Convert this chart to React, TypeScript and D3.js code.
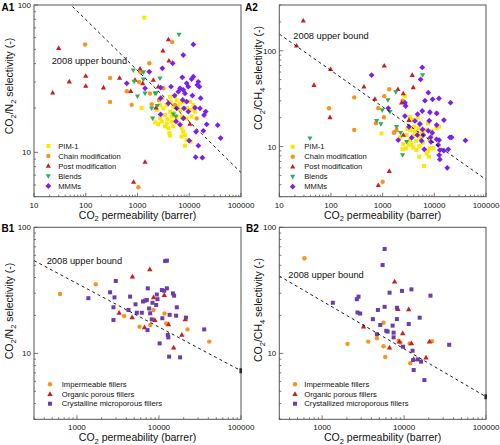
import React from "react";
import * as d3 from "d3";

type Pt = [number, number];

// ---------- Panel A1 : CO2/N2 ----------
const a1PIM1: Pt[] = [
  [1350, 82], [1200, 20], [4250, 23.9], [5290, 24.1], [5710, 22.6], [4370, 22.1], [3660, 21], [2720, 21],
  [3160, 19.9], [2350, 19.4], [4920, 20.4], [6620, 21.5], [10300, 22.1], [12000, 21], [10300, 19.4],
  [6620, 19.4], [4250, 18.9], [3400, 17.9], [4570, 17.5], [2720, 17], [5710, 17.5], [2930, 16.2],
  [3660, 15.7], [4570, 16.2], [5710, 16.6], [7130, 17.5], [8910, 17], [11100, 17.5], [3400, 15],
  [3940, 14.6], [4920, 15], [7130, 14.6], [7670, 13.8], [8280, 13.1], [7130, 12.8], [4120, 13.5],
  [8910, 12.1], [8280, 11.1], [10670, 11.8], [4250, 13], [12900, 18.9], [3000, 23.5], [6000, 20.5],
  [7800, 22], [9000, 20], [5000, 18.5], [3800, 16.8], [6200, 15.8], [2500, 15.5], [2200, 16], [12500, 19.4],
];
const a1Chain: Pt[] = [
  [97, 54], [295, 32], [295, 22], [620, 26], [770, 21], [1070, 30], [1150, 35], [1690, 40.2], [1740, 25.1],
  [1880, 21.2], [2600, 22.7], [3160, 27.2], [4700, 56], [1040, 5.8], [13900, 17], [5300, 21],
];
const a1Post: Pt[] = [
  [30, 51], [23, 25.4], [48, 30.2], [100, 33], [100, 28.2], [220, 27.5], [450, 32], [740, 26], [895, 31],
  [1120, 37], [1260, 29.4], [1400, 8.6], [840, 6.3], [2020, 31], [2520, 27.9], [2280, 20.1], [4050, 41.9],
  [3950, 58.4], [3100, 49], [10300, 15.6],
];
const a1Blends: Pt[] = [
  [6340, 63], [830, 36], [860, 30.2], [1300, 35], [1300, 31.3], [1000, 24], [1400, 25.1], [2180, 25.1],
  [2720, 31.8], [1960, 17], [1880, 19.9], [2420, 20.7], [4920, 18.1], [5500, 17.5], [2300, 25.2],
];
const a1MMMs: Pt[] = [
  [12000, 54], [7670, 45.7], [620, 29.4], [1690, 35.2], [3020, 37.2], [4780, 40.2], [7340, 32.3],
  [11100, 31.4], [12000, 32.6], [14970, 30.1], [14300, 28.6], [15700, 27.9], [4440, 27.9], [6630, 27.2],
  [7670, 26.5], [9590, 27.9], [8910, 29.4], [6150, 25.8], [8280, 25.1], [1400, 27.2], [2800, 27.5],
  [5220, 24.3], [11500, 24.3], [16600, 23.3], [2800, 23.3], [3940, 21.5], [7450, 22.7], [8910, 22.1],
  [12900, 20.1], [16100, 19.9], [20800, 18.9], [19300, 17.9], [5710, 19.9], [7900, 19.9], [9590, 18.9],
  [2800, 18.1], [7670, 17], [5550, 16.2], [6630, 15.4], [21700, 15.5], [35400, 15.3], [13500, 13.8],
  [18700, 14], [40400, 12.5], [10000, 12], [15000, 11.1], [13300, 9.27], [17900, 9.2],
];

// ---------- Panel A2 : CO2/CH4 ----------
const a2PIM1: Pt[] = [
  [953, 13.7], [2700, 33.6], [3790, 18.9], [3370, 20.5], [5100, 17.5], [12400, 16.1], [4030, 16.1],
  [4890, 15.5], [3480, 14.9], [4220, 14.3], [5670, 14.3], [2900, 13.2], [3910, 12.9], [5260, 12.7],
  [3370, 11.7], [4410, 11.5], [3630, 10.4], [5100, 10.1], [2500, 10.6], [2820, 9.57], [3910, 9.8],
  [8220, 9.57], [7620, 9.06], [7080, 8.5], [7850, 7.84], [5100, 7.84], [6300, 6.27], [2430, 9.36],
  [2160, 12.5], [6100, 13.5], [7000, 15], [4600, 13.8], [9520, 9.6], [11000, 15.5], [6000, 11],
  [4500, 9.2], [3200, 10.5], [8000, 12], [5600, 12.2], [3000, 15.3], [7500, 17.5], [9000, 14.5], [4800, 20],
];
const a2Chain: Pt[] = [
  [91.4, 25.1], [282, 32.6], [282, 14.9], [822, 25.1], [741, 17.5], [1074, 33.6], [1059, 20.2],
  [1342, 39.6], [1000, 4.3], [1675, 14.1], [2430, 30.1], [1860, 14.9], [1650, 13.9], [11070, 22.5],
];
const a2Post: Pt[] = [
  [29.1, 206], [21.6, 113], [46.9, 43.8], [98.4, 64.4], [95.5, 20.2], [434, 42.2], [708, 31.4],
  [1074, 69.8], [1972, 39.6], [2330, 28.7], [3740, 55.7], [3910, 41.5], [2500, 35.9], [1342, 5.55],
  [822, 3.96], [3230, 18.9], [2510, 13.2],
];
const a2Blends: Pt[] = [
  [39.2, 12.2], [1264, 30.6], [981, 24.0], [1384, 23.1], [764, 18.6], [925, 17.2], [1860, 16.1],
  [2430, 8.15], [5930, 55.7], [1800, 37], [2220, 13.9], [2900, 11.2],
];
const a2MMMs: Pt[] = [
  [611, 55.7], [5840, 67], [5420, 50.2], [7640, 36.5], [6580, 30.1], [9250, 31.1], [12300, 31.8],
  [20600, 28.7], [2700, 28.7], [2780, 26.5], [1285, 25.1], [5840, 23.5], [8220, 22.8], [11100, 22.2],
  [4740, 21.8], [2700, 20.8], [4220, 18.5], [7980, 18.6], [15300, 18.9], [5260, 17.2], [11100, 16.8],
  [3230, 16.1], [5930, 15.1], [7620, 14.6], [9120, 13.9], [4680, 13.2], [6100, 13.2], [3630, 12.4],
  [8470, 12.5], [11070, 11.9], [12400, 11.7], [20000, 12.5], [21600, 12.5], [40000, 11.6], [2000, 11.7],
  [5660, 11.5], [8590, 11.2], [11900, 10.4], [6380, 9.36], [12800, 9.2], [15300, 9.06], [18600, 9.36],
  [12400, 8.15], [12800, 7.35], [17800, 6.0],
];

// ---------- Panel B1 : CO2/N2 MMMs by filler ----------
const b1Impermeable: Pt[] = [
  [622, 29.6], [1698, 35.3], [3760, 19.8], [5790, 16.3], [7820, 16.8], [8590, 22.1], [11700, 20.7],
  [12250, 17.3], [22300, 15.5], [41000, 12.4],
];
const b1Organic: Pt[] = [
  [3270, 21.0], [4750, 40.6], [4710, 19.3], [6670, 16.1], [7740, 46.4], [8590, 27.8], [8920, 18.4],
  [11600, 29], [13100, 17], [15100, 11.1], [19000, 14], [20900, 18.6],
];
const b1Crystalline: Pt[] = [
  [1380, 27.4], [2540, 30.5], [2790, 23.2], [2870, 27.8], [2790, 18.4], [2980, 37.5], [4250, 22.1],
  [4450, 28.2], [5180, 24.5], [5370, 21], [6180, 21], [6790, 26.2], [7110, 26.5], [7250, 15.3],
  [7310, 32.8], [7590, 22.7], [7820, 20.8], [8180, 18.6], [8340, 25.2], [9420, 29.3], [9600, 26.9],
  [9250, 24.2], [10200, 12], [10850, 31.8], [11000, 19], [11600, 31.4], [11900, 54], [12500, 54.4],
  [12500, 32.8], [12800, 14], [13500, 20.2], [13300, 9.42], [14800, 29.9], [15300, 28.7], [16200, 19.9],
  [16500, 23.2], [18100, 9.3], [21300, 19.2], [35600, 15.5], [6400, 25.8], [13000, 13.4],
];

// ---------- Panel B2 : CO2/CH4 MMMs by filler ----------
const b2Impermeable: Pt[] = [
  [607, 56.8], [2040, 11.9], [3650, 12.4], [4660, 13.2], [5620, 17.5], [5620, 11.4], [5890, 9.35],
  [8590, 12.6], [9000, 12.2], [11900, 8.34], [11700, 12], [21900, 12.5],
];
const b2Organic: Pt[] = [
  [3200, 16.3], [6650, 11.1], [7670, 37.1], [8420, 22.5], [8740, 12.4], [9620, 14.4], [11400, 22.3],
  [12300, 12], [13100, 9.0], [18500, 9.25], [20400, 12.4],
];
const b2Crystallized: Pt[] = [
  [1350, 25.2], [2650, 26.9], [2780, 28.2], [2700, 21.1], [2910, 20.7], [4160, 18.7], [4660, 14.2],
  [4790, 22.1], [5120, 16.8], [5470, 50.2], [5790, 67.3], [5790, 23.4], [6060, 15.1], [6650, 30.3],
  [7250, 16.6], [7450, 14.6], [7450, 13.4], [8180, 23], [8180, 18.7], [9420, 31.3], [9700, 11.3],
  [11400, 17.1], [12300, 32.2], [12700, 10.5], [12900, 8.85], [13100, 7.38], [14700, 8.96], [15500, 19.2],
  [16100, 8.6], [17700, 6.14], [21000, 28.7], [35500, 11.7], [6300, 14.9],
];

// Robeson 2008 upper bound parameters: P = k * alpha^(-n)
const boundN2 = { k: 30967000, n: 2.888 };
const boundCH4 = { k: 5369140, n: 2.636 };

const xTickLabelsA = [10, 100, 1000, 10000, 100000];
const xTickLabelsB = [1000, 10000, 100000];
const yTickLabels = [10, 100];

const legendA = ["PIM-1", "Chain modification", "Post modification", "Blends", "MMMs"];
const legendB1 = ["Impermeable fillers", "Organic porous fillers", "Crystalline microporous fillers"];
const legendB2 = ["Impermeable fillers", "Organic porous fillers", "Crystallized microporous fillers"];

const FONT = "'Liberation Sans', Arial, Helvetica, sans-serif";
const FRAME = "#555";

type Shape = "square" | "circle" | "triUp" | "triDown" | "diamond";
type Series = { name: string; color: string; shape: Shape; size: number; data: Pt[] };

function Marker({ shape, x, y, color, s }: { shape: Shape; x: number; y: number; color: string; s: number }) {
  const h = s / 2;
  switch (shape) {
    case "square":
      return <rect x={x - h} y={y - h} width={s} height={s} fill={color} />;
    case "circle":
      return <circle cx={x} cy={y} r={h} fill={color} />;
    case "triUp": {
      const t = s * 0.88;
      return <path d={`M${x},${y - t * 0.6}L${x + h},${y + t * 0.4}L${x - h},${y + t * 0.4}Z`} fill={color} />;
    }
    case "triDown": {
      const t = s * 0.88;
      return <path d={`M${x},${y + t * 0.6}L${x + h},${y - t * 0.4}L${x - h},${y - t * 0.4}Z`} fill={color} />;
    }
    case "diamond":
      return <path d={`M${x},${y - h}L${x + h},${y}L${x},${y + h}L${x - h},${y}Z`} fill={color} />;
  }
  return null;
}

type Part = [string, boolean];
function Rich({ parts, fs }: { parts: Part[]; fs: number }) {
  const shift = fs * 0.25;
  let prevSub = false;
  return (
    <>
      {parts.map(([t, sub], i) => {
        let dy = 0;
        if (sub && !prevSub) dy = shift;
        if (!sub && prevSub) dy = -shift;
        prevSub = sub;
        return (
          <tspan key={i} dy={dy} fontSize={sub ? fs * 0.72 : fs}>
            {t}
          </tspan>
        );
      })}
    </>
  );
}

function logTicks(domain: [number, number]) {
  const out: { v: number; major: boolean }[] = [];
  const [a, b] = domain;
  for (let k = Math.floor(Math.log10(a)); k <= Math.ceil(Math.log10(b)); k++) {
    for (let m = 1; m <= 9; m++) {
      const v = m * Math.pow(10, k);
      if (v >= a * 0.9999 && v <= b * 1.0001) out.push({ v, major: m === 1 });
    }
  }
  return out;
}

type PanelProps = {
  id: string;
  box: { left: number; right: number; top: number; bottom: number };
  xDomain: [number, number];
  yDomain: [number, number];
  xLabels: number[];
  series: Series[];
  legend: string[];
  legendPos: { mx: number; tx: number; y0: number; dy: number; fs: number };
  bound: { k: number; n: number };
  boundText: { x: number; y: number };
  endMark: boolean;
  label: string;
  labelPos: { x: number; y: number };
  yTitle: Part[];
  yTitlePos: { x: number; y: number };
};

function Panel(p: PanelProps) {
  const { box } = p;
  const x = d3.scaleLog().domain(p.xDomain).range([box.left, box.right]);
  const y = d3.scaleLog().domain(p.yDomain).range([box.bottom, box.top]);
  const xt = logTicks(p.xDomain);
  const yt = logTicks(p.yDomain);
  const boundAlpha = (P: number) => Math.pow(p.bound.k / P, 1 / p.bound.n);
  const line = d3
    .line<number>()
    .x((P) => x(P))
    .y((P) => y(boundAlpha(P)));
  const bx = [p.xDomain[0], p.xDomain[1]];
  const clipId = `clip-${p.id}`;
  const endY = y(boundAlpha(p.xDomain[1]));
  const tickFs = 8;
  const xTitleParts: Part[] = [["CO", false], ["2", true], [" permeability (barrer)", false]];
  return (
    <g>
      <defs>
        <clipPath id={clipId}>
          <rect x={box.left} y={box.top} width={box.right - box.left} height={box.bottom - box.top} />
        </clipPath>
      </defs>
      <g clipPath={`url(#${clipId})`}>
        {p.series.map((s) =>
          s.data.map((d, i) => <Marker key={s.name + i} shape={s.shape} x={x(d[0])} y={y(d[1])} color={s.color} s={s.size} />)
        )}
        <path d={line(bx) || ""} fill="none" stroke="#000" strokeWidth={0.9} strokeDasharray="3,3" />
      </g>
      {p.endMark && <rect x={box.right - 1.5} y={endY - 2.5} width={2.5} height={5} fill="#000" />}
      {/* frame */}
      <rect
        x={box.left}
        y={box.top}
        width={box.right - box.left}
        height={box.bottom - box.top}
        fill="none"
        stroke={FRAME}
        strokeWidth={1}
      />
      {/* ticks */}
      {xt.map((t, i) => (
        <line
          key={"xt" + i}
          x1={x(t.v)}
          x2={x(t.v)}
          y1={box.bottom}
          y2={box.bottom - (t.major ? 4 : 2)}
          stroke={FRAME}
          strokeWidth={0.8}
        />
      ))}
      {yt.map((t, i) => (
        <line
          key={"yt" + i}
          x1={box.left}
          x2={box.left + (t.major ? 4 : 2)}
          y1={y(t.v)}
          y2={y(t.v)}
          stroke={FRAME}
          strokeWidth={0.8}
        />
      ))}
      {p.xLabels.map((v) => (
        <text key={"xl" + v} x={x(v)} y={box.bottom + 10.8} textAnchor="middle" fontSize={tickFs} fill="#111">
          {v}
        </text>
      ))}
      {yTickLabels.map((v) => (
        <text key={"yl" + v} x={box.left - 3} y={y(v) + 3} textAnchor="end" fontSize={tickFs} fill="#111">
          {v}
        </text>
      ))}
      <text x={(box.left + box.right) / 2} y={box.bottom + 21.8} textAnchor="middle" fill="#111">
        <Rich parts={xTitleParts} fs={10.5} />
      </text>
      <text
        transform={`translate(${p.yTitlePos.x},${p.yTitlePos.y}) rotate(-90)`}
        textAnchor="middle"
        fill="#111"
      >
        <Rich parts={p.yTitle} fs={10.5} />
      </text>
      <text x={p.boundText.x} y={p.boundText.y} fontSize={9.3} fill="#111">
        2008 upper bound
      </text>
      <text x={p.labelPos.x} y={p.labelPos.y} fontSize={10} fontWeight="bold" fill="#000">
        {p.label}
      </text>
      {p.legend.map((name, i) => {
        const s = p.series[i];
        const ly = p.legendPos.y0 + i * p.legendPos.dy;
        return (
          <g key={"lg" + i}>
            <Marker shape={s.shape} x={p.legendPos.mx} y={ly} color={s.color} s={s.size} />
            <text x={p.legendPos.tx} y={ly + 2.7} fontSize={p.legendPos.fs} fill="#111">
              {name}
            </text>
          </g>
        );
      })}
    </g>
  );
}

const C = {
  yellow: "#FFE500",
  orange: "#F7941D",
  red: "#C81E1E",
  green: "#2EAE5E",
  violet: "#7A1FF0",
  purple: "#6A3DAA",
};

function seriesA(pim: Pt[], chain: Pt[], post: Pt[], blends: Pt[], mmm: Pt[]): Series[] {
  return [
    { name: legendA[0], color: C.yellow, shape: "square", size: 4, data: pim },
    { name: legendA[1], color: C.orange, shape: "circle", size: 4.4, data: chain },
    { name: legendA[2], color: C.red, shape: "triUp", size: 5.2, data: post },
    { name: legendA[3], color: C.green, shape: "triDown", size: 5.2, data: blends },
    { name: legendA[4], color: C.violet, shape: "diamond", size: 5.8, data: mmm },
  ];
}

function seriesB(names: string[], imp: Pt[], org: Pt[], cry: Pt[]): Series[] {
  return [
    { name: names[0], color: C.orange, shape: "circle", size: 4.4, data: imp },
    { name: names[1], color: C.red, shape: "triUp", size: 5.4, data: org },
    { name: names[2], color: C.purple, shape: "square", size: 4, data: cry },
  ];
}

export default function App() {
  const boxA1 = { left: 34, right: 241, top: 5, bottom: 196.7 };
  const boxA2 = { left: 279.3, right: 486, top: 5, bottom: 196.7 };
  const boxB1 = { left: 34, right: 241, top: 227.3, bottom: 419.3 };
  const boxB2 = { left: 279.3, right: 486, top: 227.3, bottom: 419.3 };
  const yN2: Part[] = [["CO", false], ["2", true], ["/N", false], ["2", true], [" selectivity (-)", false]];
  const yCH4: Part[] = [["CO", false], ["2", true], ["/CH", false], ["4", true], [" selectivity (-)", false]];
  return (
    <svg
      width={500}
      height={445}
      style={{ position: "absolute", left: 0, top: 0, background: "#fff", fontFamily: FONT }}
      fontFamily={FONT}
    >
      <rect width={500} height={445} fill="#fff" />
      <Panel
        id="a1"
        box={boxA1}
        xDomain={[10, 100000]}
        yDomain={[5, 100]}
        xLabels={xTickLabelsA}
        series={seriesA(a1PIM1, a1Chain, a1Post, a1Blends, a1MMMs)}
        legend={legendA}
        legendPos={{ mx: 48.3, tx: 58.3, y0: 146, dy: 10, fs: 7.6 }}
        bound={boundN2}
        boundText={{ x: 51.7, y: 64 }}
        endMark={false}
        label="A1"
        labelPos={{ x: 1.5, y: 11 }}
        yTitle={yN2}
        yTitlePos={{ x: 13, y: 86 }}
      />
      <Panel
        id="a2"
        box={boxA2}
        xDomain={[10, 100000]}
        yDomain={[3, 300]}
        xLabels={xTickLabelsA}
        series={seriesA(a2PIM1, a2Chain, a2Post, a2Blends, a2MMMs)}
        legend={legendA}
        legendPos={{ mx: 292.7, tx: 304.3, y0: 146.7, dy: 10, fs: 7.6 }}
        bound={boundCH4}
        boundText={{ x: 293.3, y: 39.3 }}
        endMark={false}
        label="A2"
        labelPos={{ x: 245, y: 11 }}
        yTitle={yCH4}
        yTitlePos={{ x: 262, y: 78 }}
      />
      <Panel
        id="b1"
        box={boxB1}
        xDomain={[300, 100000]}
        yDomain={[3, 100]}
        xLabels={xTickLabelsB}
        series={seriesB(legendB1, b1Impermeable, b1Organic, b1Crystalline)}
        legend={legendB1}
        legendPos={{ mx: 50, tx: 61.7, y0: 384.3, dy: 9.7, fs: 7.7 }}
        bound={boundN2}
        boundText={{ x: 46.7, y: 263.5 }}
        endMark={true}
        label="B1"
        labelPos={{ x: 1.5, y: 232 }}
        yTitle={yN2}
        yTitlePos={{ x: 13, y: 311 }}
      />
      <Panel
        id="b2"
        box={boxB2}
        xDomain={[300, 100000]}
        yDomain={[3, 100]}
        xLabels={xTickLabelsB}
        series={seriesB(legendB2, b2Impermeable, b2Organic, b2Crystallized)}
        legend={legendB2}
        legendPos={{ mx: 295, tx: 304.3, y0: 384.3, dy: 9.7, fs: 7.7 }}
        bound={boundCH4}
        boundText={{ x: 288.3, y: 277.5 }}
        endMark={true}
        label="B2"
        labelPos={{ x: 246, y: 232 }}
        yTitle={yCH4}
        yTitlePos={{ x: 262, y: 310 }}
      />
    </svg>
  );
}
